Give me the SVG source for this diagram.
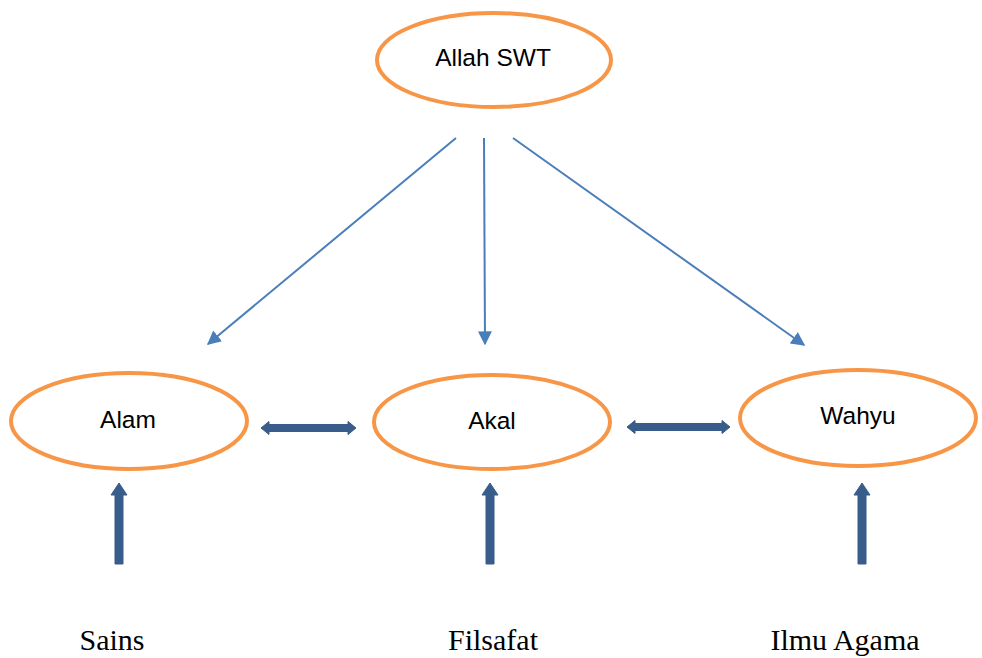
<svg xmlns="http://www.w3.org/2000/svg" width="982" height="658" viewBox="0 0 982 658">
<style>
.node{fill:#fff;stroke:#F79646;stroke-width:4}
.lbl{font-family:"Liberation Sans",Arial,sans-serif;font-size:24.5px;fill:#000;text-anchor:middle}
.btm{font-family:"Liberation Serif","Times New Roman",serif;font-size:30px;fill:#000;text-anchor:middle}
.thin{stroke:#4A7EBB;stroke-width:2;fill:none}
.thick{fill:#385D8A;stroke:#385D8A;stroke-width:1;stroke-linejoin:round}
</style>
<defs>
<marker id="ah" viewBox="0 0 10 10" refX="9" refY="5" markerWidth="7" markerHeight="7" markerUnits="strokeWidth" orient="auto">
<path d="M0,0 L10,5 L0,10 z" fill="#4A7EBB"/>
</marker>
</defs>
<rect width="982" height="658" fill="#fff"/>
<g id="connectors">
<line class="thin" x1="456" y1="138" x2="208" y2="344" marker-end="url(#ah)"/>
<line class="thin" x1="484" y1="138" x2="485" y2="344" marker-end="url(#ah)"/>
<line class="thin" x1="513" y1="138" x2="804" y2="345" marker-end="url(#ah)"/>
<polygon class="thick" points="261,428 269,421.5 269,424.5 348,424.5 348,421.5 356,428 348,434.5 348,431.5 269,431.5 269,434.5"/>
<polygon class="thick" points="627,427 635,420.5 635,423.5 722,423.5 722,420.5 730,427 722,433.5 722,430.5 635,430.5 635,433.5"/>
<polygon class="thick" points="119,483 127,495 123,495 123,564 115,564 115,495 111,495"/>
<polygon class="thick" points="490,483 498,495 494,495 494,564 486,564 486,495 482,495"/>
<polygon class="thick" points="862,483 870,495 866,495 866,564 858,564 858,495 854,495"/>
</g>
<g id="allah">
<ellipse class="node" cx="494" cy="60" rx="117" ry="47"/>
<text class="lbl" x="493" y="66">Allah SWT</text>
</g>
<g id="alam">
<ellipse class="node" cx="129" cy="421" rx="118" ry="48"/>
<text class="lbl" x="128" y="428">Alam</text>
</g>
<g id="akal">
<ellipse class="node" cx="492" cy="422" rx="118" ry="47"/>
<text class="lbl" x="492" y="429">Akal</text>
</g>
<g id="wahyu">
<ellipse class="node" cx="858" cy="418" rx="118" ry="48"/>
<text class="lbl" x="858" y="424">Wahyu</text>
</g>
<g id="sains"><text class="btm" x="112" y="650">Sains</text></g>
<g id="filsafat"><text class="btm" x="493" y="650">Filsafat</text></g>
<g id="ilmuagama"><text class="btm" x="845" y="650">Ilmu Agama</text></g>
</svg>
